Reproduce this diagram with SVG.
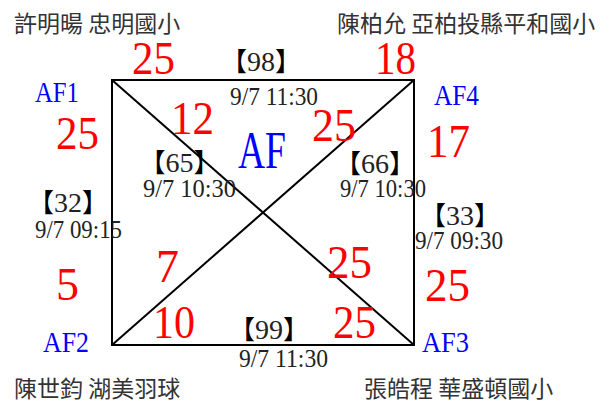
<svg xmlns="http://www.w3.org/2000/svg" width="612" height="405" viewBox="0 0 612 405">
<style>
.name{font-family:"Noto Sans CJK TC","Noto Sans CJK SC",sans-serif;font-size:23px;fill:#333}
.num{font-family:"Liberation Serif",serif;font-size:46px;fill:#ff0000}
.af{font-family:"Liberation Serif",serif;font-size:29px;fill:#0000ff}
.mt{font-family:"Liberation Serif",serif;font-size:28px;fill:#222;text-anchor:middle}
.bk{font-family:"Noto Sans CJK TC",sans-serif;font-size:26px;fill:#000}
.tm{font-family:"Liberation Serif",serif;font-size:26px;fill:#222}
.ln{stroke:#000;stroke-width:2;fill:none}
</style>
<rect width="612" height="405" fill="#fff"/>
<g id="connectors">
<rect class="ln" x="112" y="80" width="302" height="265"/>
<line class="ln" x1="112" y1="80" x2="414" y2="345"/>
<line class="ln" x1="414" y1="80" x2="112" y2="345"/>
</g>
<g id="AF1">
<text class="af" x="35" y="102" textLength="44" lengthAdjust="spacingAndGlyphs">AF1</text>
<text class="name" x="14" y="32">許明暘 忠明國小</text>
</g>
<g id="AF4">
<text class="af" x="434" y="105" textLength="45" lengthAdjust="spacingAndGlyphs">AF4</text>
<text class="name" x="337" y="32">陳柏允 亞柏投縣平和國小</text>
</g>
<g id="AF2">
<text class="af" x="43" y="352" textLength="46" lengthAdjust="spacingAndGlyphs">AF2</text>
<text class="name" x="14" y="397">陳世鈞 湖美羽球</text>
</g>
<g id="AF3">
<text class="af" x="422" y="352" textLength="47" lengthAdjust="spacingAndGlyphs">AF3</text>
<text class="name" x="364" y="397">張皓程 華盛頓國小</text>
</g>
<g id="AF">
<text x="238" y="168" font-family="Liberation Serif,serif" font-size="52" fill="#0000ff" textLength="48" lengthAdjust="spacingAndGlyphs">AF</text>
</g>
<g id="scores">
<text class="num" x="132" y="74" textLength="43" lengthAdjust="spacingAndGlyphs">25</text>
<text class="num" x="375" y="74" textLength="41" lengthAdjust="spacingAndGlyphs">18</text>
<text class="num" x="56" y="149" textLength="43" lengthAdjust="spacingAndGlyphs">25</text>
<text class="num" x="171" y="134" textLength="43" lengthAdjust="spacingAndGlyphs">12</text>
<text class="num" x="312" y="141" textLength="44" lengthAdjust="spacingAndGlyphs">25</text>
<text class="num" x="427" y="157" textLength="43" lengthAdjust="spacingAndGlyphs">17</text>
<text class="num" x="56" y="300" font-size="40">5</text>
<text class="num" x="156" y="282" font-size="44">7</text>
<text class="num" x="327" y="278" textLength="45" lengthAdjust="spacingAndGlyphs">25</text>
<text class="num" x="425" y="301" textLength="45" lengthAdjust="spacingAndGlyphs">25</text>
<text class="num" x="153" y="338" textLength="42" lengthAdjust="spacingAndGlyphs">10</text>
<text class="num" x="333" y="338" textLength="43" lengthAdjust="spacingAndGlyphs">25</text>
</g>
<g id="m98">
<text class="mt" x="261" y="71"><tspan class="bk">【</tspan>98<tspan class="bk">】</tspan></text>
<text class="tm" x="230" y="105" textLength="88" lengthAdjust="spacingAndGlyphs">9/7 11:30</text>
</g>
<g id="m65">
<text class="mt" x="179.5" y="172"><tspan class="bk">【</tspan>65<tspan class="bk">】</tspan></text>
<text class="tm" x="143" y="197" textLength="93" lengthAdjust="spacingAndGlyphs">9/7 10:30</text>
</g>
<g id="m32">
<text class="mt" x="68" y="212"><tspan class="bk">【</tspan>32<tspan class="bk">】</tspan></text>
<text class="tm" x="35" y="238" textLength="87" lengthAdjust="spacingAndGlyphs">9/7 09:15</text>
</g>
<g id="m66">
<text class="mt" x="375" y="173"><tspan class="bk">【</tspan>66<tspan class="bk">】</tspan></text>
<text class="tm" x="340" y="197" textLength="86" lengthAdjust="spacingAndGlyphs">9/7 10:30</text>
</g>
<g id="m33">
<text class="mt" x="460" y="225"><tspan class="bk">【</tspan>33<tspan class="bk">】</tspan></text>
<text class="tm" x="415" y="249" textLength="88" lengthAdjust="spacingAndGlyphs">9/7 09:30</text>
</g>
<g id="m99">
<text class="mt" x="269" y="339"><tspan class="bk">【</tspan>99<tspan class="bk">】</tspan></text>
<text class="tm" x="239" y="367" textLength="89" lengthAdjust="spacingAndGlyphs">9/7 11:30</text>
</g>
</svg>
